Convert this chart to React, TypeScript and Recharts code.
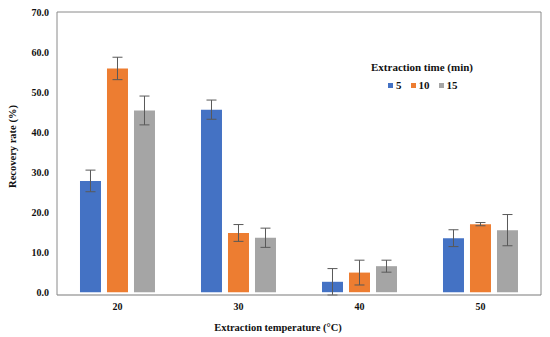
import React from 'react';
import { BarChart, Bar, XAxis, YAxis, ErrorBar, usePlotArea } from 'recharts';

// Extraction temperature (°C) groups
const temperatures = ['20', '30', '40', '50'];

// Recovery rate (%) per extraction time
const time5 = [27.8, 45.6, 2.6, 13.5];
const time10 = [55.9, 14.8, 4.9, 17.0];
const time15 = [45.4, 13.6, 6.5, 15.5];

// Error bar sizes (±)
const err5 = [2.7, 2.4, 3.3, 2.1];
const err10 = [2.8, 2.1, 3.1, 0.4];
const err15 = [3.6, 2.4, 1.5, 3.9];

const yTicks = [0, 10, 20, 30, 40, 50, 60, 70];

const series = [
  { key: 't5', err: 'e5', name: '5', color: '#4472C4' },
  { key: 't10', err: 'e10', name: '10', color: '#ED7D31' },
  { key: 't15', err: 'e15', name: '15', color: '#A5A5A5' },
];

const chartData = temperatures.map((temp, i) => ({
  temp,
  t5: time5[i],
  t10: time10[i],
  t15: time15[i],
  e5: err5[i],
  e10: err10[i],
  e15: err15[i],
}));

const FONT = '"Liberation Serif", "Times New Roman", serif';
const BORDER = '#8a8a8a';

// plot-area frame (top and right edges of the box)
const PlotFrame = () => {
  const area = usePlotArea();
  if (!area) return null;
  const { x, y, width, height } = area;
  return (
    <path
      d={`M${x},${y}H${x + width}V${y + height}`}
      fill="none"
      stroke={BORDER}
      strokeWidth={1}
    />
  );
};

const LegendBox = () => (
  <div
    style={{
      position: 'absolute',
      left: 371,
      top: 61,
      fontFamily: FONT,
      fontWeight: 'bold',
      color: '#111',
    }}
  >
    <div style={{ fontSize: 11, lineHeight: '13px' }}>Extraction time (min)</div>
    <div style={{ display: 'flex', marginTop: 5, marginLeft: 17, fontSize: 11, lineHeight: '12px' }}>
      {series.map(s => (
        <div key={s.key} style={{ display: 'flex', alignItems: 'center', marginRight: 9 }}>
          <span style={{ display: 'inline-block', width: 5, height: 5, background: s.color, marginRight: 3 }} />
          <span>{s.name}</span>
        </div>
      ))}
    </div>
  </div>
);

const App: React.FC = () => {
  return (
    <div style={{ position: 'absolute', left: 0, top: 0, width: 550, height: 337, background: '#fff' }}>
      <BarChart
        width={550}
        height={337}
        data={chartData}
        margin={{ top: 12, right: 9, left: 0, bottom: 0 }}
        barGap={6}
        barCategoryGap="19%"
      >
        <XAxis
          dataKey="temp"
          height={42}
          tickLine={false}
          axisLine={{ stroke: '#7a7a7a', strokeWidth: 1.2 }}
          tick={{ fontFamily: FONT, fontWeight: 'bold', fontSize: 10, fill: '#111' }}
          label={{
            value: 'Extraction temperature (°C)',
            position: 'center',
            dx: -21,
            dy: 11,
            style: { fontFamily: FONT, fontWeight: 'bold', fontSize: 10.5, fill: '#111' },
          }}
        />
        <YAxis
          width={57}
          domain={[0, 70]}
          ticks={yTicks}
          tickLine={false}
          axisLine={{ stroke: BORDER }}
          tickFormatter={(v: number) => v.toFixed(1)}
          tick={{ fontFamily: FONT, fontWeight: 'bold', fontSize: 10, fill: '#111' }}
          label={{
            value: 'Recovery rate (%)',
            angle: -90,
            position: 'center',
            dx: -16,
            dy: -7,
            style: { fontFamily: FONT, fontWeight: 'bold', fontSize: 10.5, fill: '#111' },
          }}
        />
        <PlotFrame />
        {series.map(s => (
          <Bar key={s.key} dataKey={s.key} name={s.name} fill={s.color} isAnimationActive={false}>
            <ErrorBar dataKey={s.err} direction="y" width={5} stroke="#595959" strokeWidth={1} />
          </Bar>
        ))}
      </BarChart>
      <LegendBox />
    </div>
  );
};

export default App;
